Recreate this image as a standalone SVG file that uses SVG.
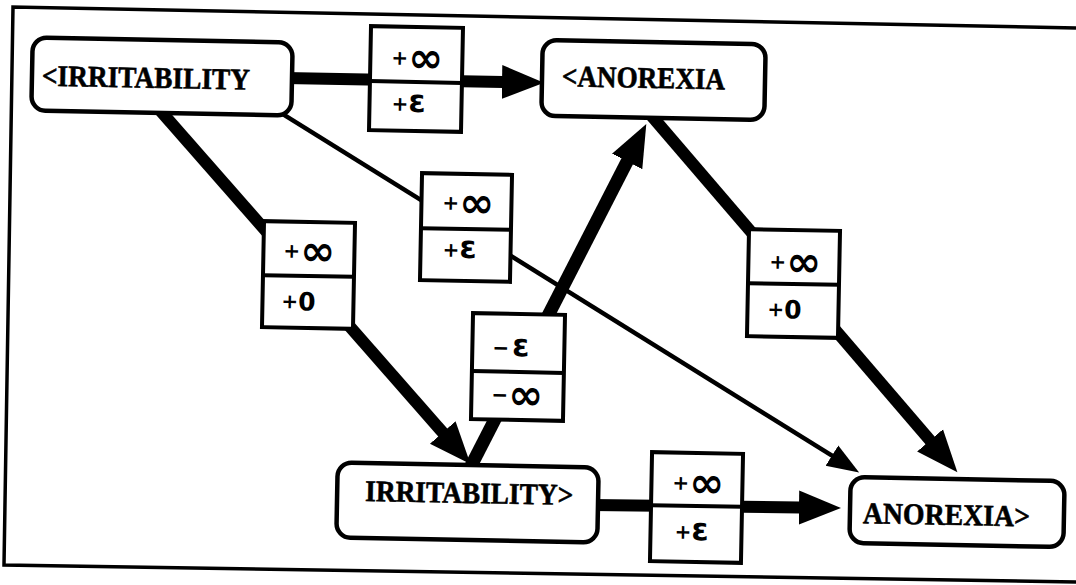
<svg xmlns="http://www.w3.org/2000/svg" width="1076" height="585" viewBox="0 0 1076 585">
  <defs>
    <style>
      .frame { fill: none; stroke: #000; stroke-width: 3.5; }
      .node rect { fill: #fff; stroke: #000; stroke-width: 4.5; }
      .node text { font-family: "Liberation Serif", "Times New Roman", serif; font-weight: bold; font-size: 30px; fill: #000; stroke: #000; stroke-width: 0.6; }
      .lbl rect { fill: #fff; stroke: #000; stroke-width: 4; }
      .lbl line { stroke: #000; stroke-width: 4; }
      .lbl text { font-family: "DejaVu Sans", "Liberation Sans", sans-serif; font-weight: bold; font-size: 20px; fill: #000; }
      .lbl .inf { font-size: 42px; }
      .lbl .eps { font-size: 31px; }
      .lbl .num { font-size: 25px; }
      .thick { stroke: #000; stroke-width: 12; fill: none; }
      .steep { stroke: #000; stroke-width: 13; fill: none; }
      .thin { stroke: #000; stroke-width: 4.5; fill: none; }
    </style>
    <marker id="head" markerUnits="userSpaceOnUse" viewBox="0 -20 44 40" markerWidth="44" markerHeight="40" refX="1" refY="0" orient="auto">
      <path d="M0,-17 L42,0 L0,17 Z" fill="#000"/>
    </marker>
    <marker id="headThin" markerUnits="userSpaceOnUse" viewBox="0 -14 34 28" markerWidth="34" markerHeight="28" refX="1" refY="0" orient="auto">
      <path d="M0,-12 L32,0 L0,12 Z" fill="#000"/>
    </marker>
  </defs>

  <!-- page border -->
  <polyline class="frame" points="1076,28 13,7 4,565 1076,582"/>

  <!-- connectors (drawn under the boxes) -->
  <g id="connectors">
    <line class="thick" x1="285" y1="78" x2="503" y2="82" marker-end="url(#head)"/>
    <line class="thick" x1="158" y1="108" x2="443.4" y2="433.2" marker-end="url(#head)"/>
    <line class="thin" x1="280" y1="112.3" x2="832.8" y2="456.1" marker-end="url(#headThin)"/>
    <line class="steep" x1="470" y1="468" x2="627.6" y2="160.5" marker-end="url(#head)"/>
    <line class="thick" x1="650" y1="114" x2="930.7" y2="441.1" marker-end="url(#head)"/>
    <line class="thick" x1="592" y1="505" x2="800" y2="507.5" marker-end="url(#head)"/>
  </g>

  <!-- nodes -->
  <g id="irritability-start" class="node" transform="rotate(1.1 162 76.5)">
    <rect x="32" y="40" width="260" height="73" rx="14"/>
    <text x="42" y="88" textLength="208" lengthAdjust="spacingAndGlyphs">&lt;IRRITABILITY</text>
  </g>
  <g id="anorexia-start" class="node" transform="rotate(1.1 653.5 80)">
    <rect x="542" y="42" width="223" height="76" rx="14"/>
    <text x="562" y="88" textLength="163" lengthAdjust="spacingAndGlyphs">&lt;ANOREXIA</text>
  </g>
  <g id="irritability-end" class="node" transform="rotate(1.1 467.5 502.5)">
    <rect x="337" y="465" width="261" height="75" rx="14"/>
    <text x="365" y="503" textLength="208" lengthAdjust="spacingAndGlyphs">IRRITABILITY&gt;</text>
  </g>
  <g id="anorexia-end" class="node" transform="rotate(1.1 957 512)">
    <rect x="850" y="479" width="214" height="66" rx="14"/>
    <text x="863" y="525" textLength="167" lengthAdjust="spacingAndGlyphs">ANOREXIA&gt;</text>
  </g>

  <!-- edge labels -->
  <g id="label-top" class="lbl" transform="rotate(1.1 416 79)">
    <rect x="370" y="27" width="92" height="104"/>
    <line x1="370" y1="82" x2="462" y2="82"/>
    <text x="391" y="65">+<tspan class="inf" dy="7">∞</tspan></text>
    <text x="392" y="111">+<tspan class="eps" dy="1">ε</tspan></text>
  </g>
  <g id="label-left" class="lbl" transform="rotate(1.1 308.5 275)">
    <rect x="263" y="222" width="91" height="106"/>
    <line x1="263" y1="276" x2="354" y2="276"/>
    <text x="283" y="258">+<tspan class="inf" dy="7">∞</tspan></text>
    <text x="282" y="308.5">+<tspan class="num" dy="2">0</tspan></text>
  </g>
  <g id="label-middle" class="lbl" transform="rotate(1.1 466 227.5)">
    <rect x="421" y="174" width="90" height="107"/>
    <line x1="421" y1="229" x2="511" y2="229"/>
    <text x="442" y="210">+<tspan class="inf" dy="7">∞</tspan></text>
    <text x="443" y="257">+<tspan class="eps" dy="1">ε</tspan></text>
  </g>
  <g id="label-negative" class="lbl" transform="rotate(1.1 518 367)">
    <rect x="472" y="314" width="92" height="106"/>
    <line x1="472" y1="372" x2="564" y2="372"/>
    <text x="492" y="355">−<tspan class="eps" dx="3" dy="1">ε</tspan></text>
    <text x="492" y="402">−<tspan class="inf" dy="7">∞</tspan></text>
  </g>
  <g id="label-right" class="lbl" transform="rotate(1.1 793.5 283.5)">
    <rect x="748" y="230" width="91" height="107"/>
    <line x1="748" y1="284" x2="839" y2="284"/>
    <text x="769" y="269">+<tspan class="inf" dy="7">∞</tspan></text>
    <text x="768" y="316.5">+<tspan class="num" dy="2">0</tspan></text>
  </g>
  <g id="label-bottom" class="lbl" transform="rotate(1.1 696.5 507.5)">
    <rect x="651" y="453" width="91" height="109"/>
    <line x1="651" y1="506" x2="742" y2="506"/>
    <text x="672" y="490">+<tspan class="inf" dy="7">∞</tspan></text>
    <text x="675" y="539">+<tspan class="eps" dy="1">ε</tspan></text>
  </g>
</svg>
